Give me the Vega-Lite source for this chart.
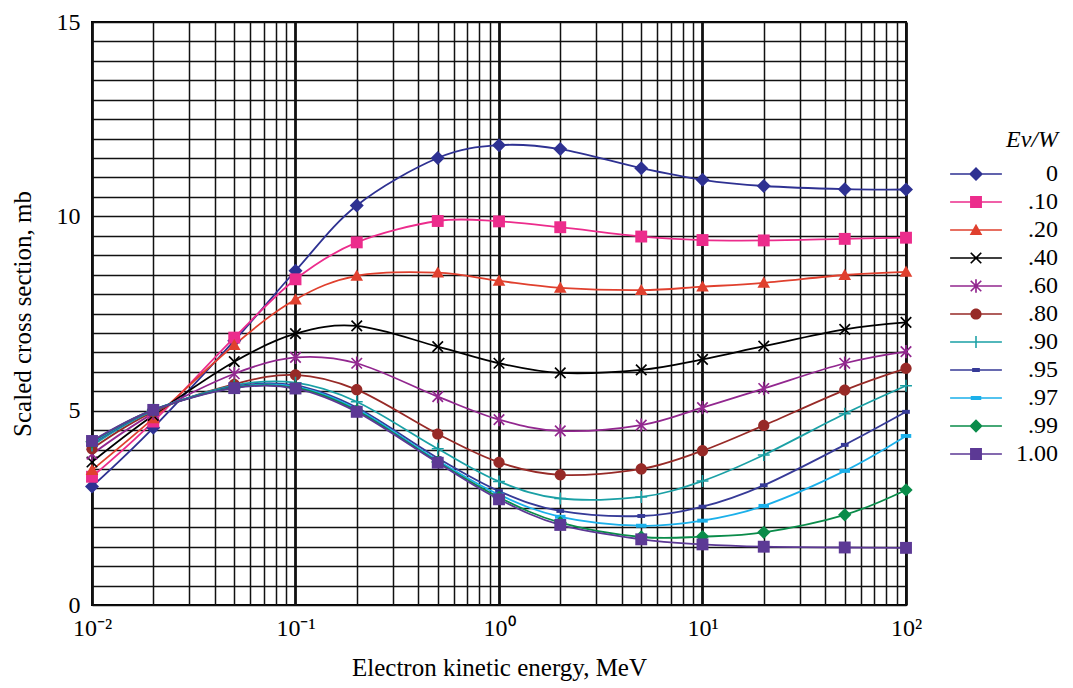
{
  "$schema": "https://vega.github.io/schema/vega-lite/v6.json",
  "width": 814,
  "height": 583,
  "autosize": {"type": "none"},
  "padding": {"left": 92, "top": 22, "right": 167, "bottom": 83},
  "background": "white",
  "config": {
    "view": {"stroke": "black", "strokeWidth": 2},
    "font": "Liberation Serif",
    "axis": {"labelFont": "Liberation Serif", "titleFont": "Liberation Serif", "labelColor": "black", "titleColor": "black", "titleFontWeight": "normal"},
    "legend": {
      "orient": "none", "legendX": 872, "legendY": 106,
      "titleFont": "Liberation Serif", "titleFontStyle": "italic", "titleFontWeight": "normal", "titleFontSize": 24, "titleColor": "black",
      "titleAnchor": "end", "titleAlign": "right", "titlePadding": 10,
      "labelFont": "Liberation Serif", "labelFontSize": 24, "labelColor": "black",
      "symbolSize": 196, "rowPadding": 4, "padding": 0
    }
  },
  "datasets": {
    "rows": [
      {"s":"0","E":0.01,"y":3.05},{"s":"0","E":0.02,"y":4.56},{"s":"0","E":0.05,"y":6.80},{"s":"0","E":0.1,"y":8.60},{"s":"0","E":0.2,"y":10.28},{"s":"0","E":0.5,"y":11.50},{"s":"0","E":1,"y":11.83},{"s":"0","E":2,"y":11.73},{"s":"0","E":5,"y":11.24},{"s":"0","E":10,"y":10.94},{"s":"0","E":20,"y":10.78},{"s":"0","E":50,"y":10.70},{"s":"0","E":100,"y":10.69},
      {"s":".10","E":0.01,"y":3.30},{"s":".10","E":0.02,"y":4.72},{"s":".10","E":0.05,"y":6.88},{"s":".10","E":0.1,"y":8.38},{"s":".10","E":0.2,"y":9.33},{"s":".10","E":0.5,"y":9.88},{"s":".10","E":1,"y":9.87},{"s":".10","E":2,"y":9.72},{"s":".10","E":5,"y":9.48},{"s":".10","E":10,"y":9.39},{"s":".10","E":20,"y":9.38},{"s":".10","E":50,"y":9.42},{"s":".10","E":100,"y":9.45},
      {"s":".20","E":0.01,"y":3.47},{"s":".20","E":0.02,"y":4.80},{"s":".20","E":0.05,"y":6.69},{"s":".20","E":0.1,"y":7.86},{"s":".20","E":0.2,"y":8.47},{"s":".20","E":0.5,"y":8.55},{"s":".20","E":1,"y":8.34},{"s":".20","E":2,"y":8.16},{"s":".20","E":5,"y":8.10},{"s":".20","E":10,"y":8.19},{"s":".20","E":20,"y":8.29},{"s":".20","E":50,"y":8.49},{"s":".20","E":100,"y":8.57},
      {"s":".40","E":0.01,"y":3.68},{"s":".40","E":0.02,"y":4.88},{"s":".40","E":0.05,"y":6.26},{"s":".40","E":0.1,"y":6.98},{"s":".40","E":0.2,"y":7.18},{"s":".40","E":0.5,"y":6.65},{"s":".40","E":1,"y":6.22},{"s":".40","E":2,"y":5.97},{"s":".40","E":5,"y":6.05},{"s":".40","E":10,"y":6.32},{"s":".40","E":20,"y":6.66},{"s":".40","E":50,"y":7.09},{"s":".40","E":100,"y":7.27},
      {"s":".60","E":0.01,"y":3.88},{"s":".60","E":0.02,"y":4.93},{"s":".60","E":0.05,"y":5.95},{"s":".60","E":0.1,"y":6.37},{"s":".60","E":0.2,"y":6.22},{"s":".60","E":0.5,"y":5.36},{"s":".60","E":1,"y":4.77},{"s":".60","E":2,"y":4.48},{"s":".60","E":5,"y":4.63},{"s":".60","E":10,"y":5.08},{"s":".60","E":20,"y":5.57},{"s":".60","E":50,"y":6.22},{"s":".60","E":100,"y":6.52},
      {"s":".80","E":0.01,"y":4.02},{"s":".80","E":0.02,"y":4.97},{"s":".80","E":0.05,"y":5.68},{"s":".80","E":0.1,"y":5.92},{"s":".80","E":0.2,"y":5.54},{"s":".80","E":0.5,"y":4.40},{"s":".80","E":1,"y":3.67},{"s":".80","E":2,"y":3.35},{"s":".80","E":5,"y":3.50},{"s":".80","E":10,"y":3.97},{"s":".80","E":20,"y":4.62},{"s":".80","E":50,"y":5.53},{"s":".80","E":100,"y":6.09},
      {"s":".90","E":0.01,"y":4.10},{"s":".90","E":0.02,"y":5.00},{"s":".90","E":0.05,"y":5.65},{"s":".90","E":0.1,"y":5.72},{"s":".90","E":0.2,"y":5.23},{"s":".90","E":0.5,"y":4.02},{"s":".90","E":1,"y":3.18},{"s":".90","E":2,"y":2.74},{"s":".90","E":5,"y":2.78},{"s":".90","E":10,"y":3.19},{"s":".90","E":20,"y":3.86},{"s":".90","E":50,"y":4.92},{"s":".90","E":100,"y":5.64},
      {"s":".95","E":0.01,"y":4.15},{"s":".95","E":0.02,"y":5.01},{"s":".95","E":0.05,"y":5.62},{"s":".95","E":0.1,"y":5.65},{"s":".95","E":0.2,"y":5.08},{"s":".95","E":0.5,"y":3.78},{"s":".95","E":1,"y":2.93},{"s":".95","E":2,"y":2.42},{"s":".95","E":5,"y":2.29},{"s":".95","E":10,"y":2.53},{"s":".95","E":20,"y":3.08},{"s":".95","E":50,"y":4.12},{"s":".95","E":100,"y":4.97},
      {"s":".97","E":0.01,"y":4.18},{"s":".97","E":0.02,"y":5.02},{"s":".97","E":0.05,"y":5.60},{"s":".97","E":0.1,"y":5.62},{"s":".97","E":0.2,"y":5.04},{"s":".97","E":0.5,"y":3.72},{"s":".97","E":1,"y":2.84},{"s":".97","E":2,"y":2.27},{"s":".97","E":5,"y":2.04},{"s":".97","E":10,"y":2.17},{"s":".97","E":20,"y":2.55},{"s":".97","E":50,"y":3.45},{"s":".97","E":100,"y":4.35},
      {"s":".99","E":0.01,"y":4.20},{"s":".99","E":0.02,"y":5.02},{"s":".99","E":0.05,"y":5.59},{"s":".99","E":0.1,"y":5.59},{"s":".99","E":0.2,"y":5.00},{"s":".99","E":0.5,"y":3.68},{"s":".99","E":1,"y":2.77},{"s":".99","E":2,"y":2.12},{"s":".99","E":5,"y":1.75},{"s":".99","E":10,"y":1.76},{"s":".99","E":20,"y":1.87},{"s":".99","E":50,"y":2.32},{"s":".99","E":100,"y":2.96},
      {"s":"1.00","E":0.01,"y":4.22},{"s":"1.00","E":0.02,"y":5.02},{"s":"1.00","E":0.05,"y":5.58},{"s":"1.00","E":0.1,"y":5.57},{"s":"1.00","E":0.2,"y":4.97},{"s":"1.00","E":0.5,"y":3.66},{"s":"1.00","E":1,"y":2.72},{"s":"1.00","E":2,"y":2.06},{"s":"1.00","E":5,"y":1.69},{"s":"1.00","E":10,"y":1.56},{"s":"1.00","E":20,"y":1.50},{"s":"1.00","E":50,"y":1.48},{"s":"1.00","E":100,"y":1.47}
    ]
  },
  "data": {"name": "rows"},
  "encoding": {
    "x": {
      "field": "E", "type": "quantitative",
      "scale": {"type": "log", "domain": [0.01, 100], "nice": false},
      "axis": {
        "values": [0.01,0.02,0.03,0.04,0.05,0.06,0.07,0.08,0.09,0.1,0.2,0.3,0.4,0.5,0.6,0.7,0.8,0.9,1,2,3,4,5,6,7,8,9,10,20,30,40,50,60,70,80,90,100],
        "grid": true, "gridColor": "#111111",
        "gridWidth": {"condition": {"test": "abs(log(datum.value)/LN10 - round(log(datum.value)/LN10)) < 0.001", "value": 2.8}, "value": 1.5},
        "gridOpacity": 1,
        "ticks": false, "domain": false,
        "labelExpr": "datum.value == 0.01 ? '10⁻²' : datum.value == 0.1 ? '10⁻¹' : datum.value == 1 ? '10⁰' : datum.value == 10 ? '10¹' : datum.value == 100 ? '10²' : ''",
        "labelFontSize": 24, "labelPadding": 11, "labelFlush": false, "labelOverlap": false,
        "title": "Electron kinetic energy, MeV", "titleFontSize": 25, "titlePadding": 15
      }
    },
    "y": {
      "field": "y", "type": "quantitative",
      "scale": {"domain": [0, 15], "nice": false, "zero": false},
      "axis": {
        "values": [0,0.5,1,1.5,2,2.5,3,3.5,4,4.5,5,5.5,6,6.5,7,7.5,8,8.5,9,9.5,10,10.5,11,11.5,12,12.5,13,13.5,14,14.5,15],
        "grid": true, "gridColor": "#111111", "gridWidth": 1.5, "gridOpacity": 1,
        "ticks": false, "domain": false,
        "labelExpr": "datum.value % 5 == 0 ? '' + datum.value : ''",
        "labelFontSize": 24, "labelPadding": 12, "labelOverlap": false,
        "title": "Scaled cross section, mb", "titleFontSize": 25, "titlePadding": 21
      }
    }
  },
  "layer": [
    {
      "mark": {"type": "line", "interpolate": "cardinal", "strokeWidth": 1.8},
      "encoding": {
        "color": {"field": "s", "type": "nominal", "title": "Eν/W",
          "scale": {"domain": ["0",".10",".20",".40",".60",".80",".90",".95",".97",".99","1.00"],
                    "range": ["#2E3192","#EC2C8C","#E0402E","#000000","#92278F","#972A27","#1AA0A5","#363A97","#1BB0EA","#0A8C4A","#5C3995"]},
          "legend": {
            "labelFont": "Liberation Serif", "labelFontSize": 24, "labelColor": "black", "symbolSize": 196,
            "labelAlign": "right", "labelOffset": 70,
            "encoding": {
              "symbols": {
                "shape": {"value": {"expr": "'M-3.7,-0.1L3.7,-0.1L3.7,0.1L-3.7,0.1Z' + scale('shape', datum.value)"}},
                "fill": {"value": {"expr": "scale('color', datum.value)"}},
                "strokeWidth": {"value": 0},
                "opacity": {"value": 1}}}
          }}
      }
    },
    {
      "mark": {"type": "point", "filled": true, "size": 196, "opacity": 1, "strokeWidth": 0},
      "encoding": {
        "color": {"field": "s", "type": "nominal", "title": "Eν/W",
          "legend": {
            "labelFont": "Liberation Serif", "labelFontSize": 24, "labelColor": "black", "symbolSize": 196,
            "labelAlign": "right", "labelOffset": 70,
            "encoding": {
              "symbols": {
                "shape": {"value": {"expr": "'M-3.7,-0.1L3.7,-0.1L3.7,0.1L-3.7,0.1Z' + scale('shape', datum.value)"}},
                "fill": {"value": {"expr": "scale('color', datum.value)"}},
                "strokeWidth": {"value": 0},
                "opacity": {"value": 1}}}
          }},
        "shape": {"field": "s", "type": "nominal",
          "scale": {"domain": ["1.00",".99",".97",".95",".90",".80",".60",".40",".20",".10","0"],
                    "range": [
                      "M-0.85,-0.85L0.85,-0.85L0.85,0.85L-0.85,0.85Z",
                      "M0,-0.95L0.95,0L0,0.95L-0.95,0Z",
                      "M-0.75,-0.28L0.75,-0.28L0.75,0.28L-0.75,0.28Z",
                      "M-0.55,-0.28L0.55,-0.28L0.55,0.28L-0.55,0.28Z",
                      "M-0.85,-0.11L0.85,-0.11L0.85,0.11L-0.85,0.11ZM-0.11,-0.85L0.11,-0.85L0.11,0.85L-0.11,0.85Z",
                      "M0.8,0A0.8,0.8,0,1,1,-0.8,0A0.8,0.8,0,1,1,0.8,0Z",
                      "M-0.835,-0.665L-0.665,-0.835L0.835,0.665L0.665,0.835ZM-0.665,0.835L-0.835,0.665L0.665,-0.835L0.835,-0.665ZM-0.12,-0.95L0.12,-0.95L0.12,0.95L-0.12,0.95Z",
                      "M-0.835,-0.665L-0.665,-0.835L0.835,0.665L0.665,0.835ZM-0.665,0.835L-0.835,0.665L0.665,-0.835L0.835,-0.665Z",
                      "M0,-0.9L0.9,0.7L-0.9,0.7Z",
                      "M-0.85,-0.85L0.85,-0.85L0.85,0.85L-0.85,0.85Z",
                      "M0,-1L1,0L0,1L-1,0Z"
                    ]},
          "legend": null
        }
      }
    }
  ]
}
